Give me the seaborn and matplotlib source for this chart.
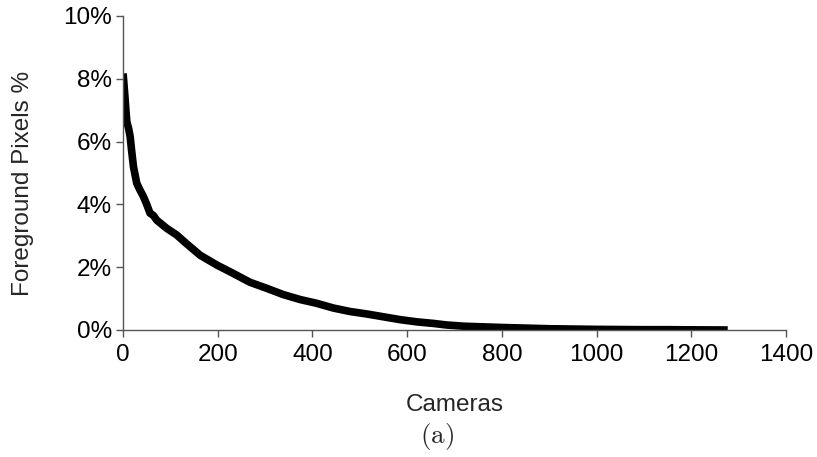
import matplotlib
matplotlib.use("Agg")
import matplotlib.pyplot as plt
import seaborn as sns
import pandas as pd
from matplotlib.ticker import FuncFormatter

# Data (camera rank vs. foreground pixel percentage)
cameras = [0, 1, 4, 6, 8, 12, 15, 18, 22, 29, 36, 43, 50, 57, 64, 71, 92, 113, 134,
           163, 198, 233, 268, 303, 338, 374, 409, 444, 479, 515, 550, 585, 620, 655,
           683, 720, 760, 800, 850, 900, 950, 1000, 1050, 1100, 1150, 1200, 1277]
foreground_pct = [8.17, 8.0, 7.43, 7.0, 6.63, 6.4, 6.16, 5.73, 5.2, 4.67, 4.45, 4.25, 4.0, 3.72,
                  3.65, 3.5, 3.24, 3.03, 2.75, 2.38, 2.07, 1.8, 1.52, 1.33, 1.13, 0.97,
                  0.85, 0.70, 0.59, 0.51, 0.42, 0.33, 0.26, 0.21, 0.16, 0.12, 0.10, 0.08,
                  0.06, 0.04, 0.03, 0.02, 0.015, 0.01, 0.01, 0.005, 0.0]

x_ticks = [0, 200, 400, 600, 800, 1000, 1200, 1400]
y_ticks = [0, 2, 4, 6, 8, 10]

df = pd.DataFrame({"Cameras": cameras, "Foreground": foreground_pct})

sns.set_style("white")
plt.rcParams["font.family"] = ["Liberation Sans", "DejaVu Sans"]
plt.rcParams["mathtext.fontset"] = "cm"

fig = plt.figure(figsize=(8.17, 4.57), dpi=100)
ax = fig.add_axes([0.1506, 0.2779, 0.8114, 0.6871])

sns.lineplot(data=df, x="Cameras", y="Foreground", ax=ax, color="black",
             linewidth=5.5, solid_capstyle="butt")

ax.set_xlim(0, 1400)
ax.set_ylim(0, 10)
ax.set_xticks(x_ticks)
ax.set_yticks(y_ticks)
ax.yaxis.set_major_formatter(FuncFormatter(lambda v, p: f"{v:.0f}%"))

for s in ["top", "right"]:
    ax.spines[s].set_visible(False)
for s in ["left", "bottom"]:
    ax.spines[s].set_color("#555555")
    ax.spines[s].set_linewidth(1.0)

ax.tick_params(axis="both", direction="out", length=5, width=1, color="#555555",
               labelsize=17.5, labelcolor="black", left=True, bottom=True)
ax.tick_params(axis="x", pad=5)
ax.tick_params(axis="y", pad=3)
ax.set_xlabel("Cameras", fontsize=17.5, labelpad=20)
ax.set_ylabel("Foreground Pixels %", fontsize=17.5)
ax.yaxis.set_label_coords(-0.135, 0.468)

fig.text(0.535, 0.01, r"$\mathrm{(a)}$", ha="center", va="bottom", fontsize=19.5)

fig.savefig("out.png", dpi=100)
